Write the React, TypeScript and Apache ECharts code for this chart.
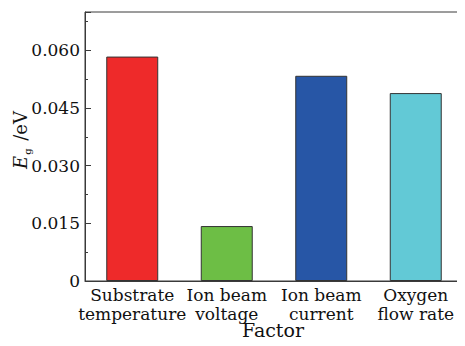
import React, { useEffect, useRef } from "react";
import * as echarts from "echarts";

const categories = ["Substrate\ntemperature", "Ion beam\nvoltage", "Ion beam\ncurrent", "Oxygen\nflow rate"];
const values = [0.0584, 0.0143, 0.0534, 0.0489];
const barColors = ["#EE2A2A", "#6DBE45", "#2756A6", "#62C9D6"];
const yTicks = [0, 0.015, 0.03, 0.045, 0.06];
const xName = "Factor";

const FONT = "DejaVu Serif";

export default function App() {
  const ref = useRef<HTMLDivElement>(null);
  useEffect(() => {
    const chart = echarts.init(ref.current!, null, { renderer: "svg" });
    const axisColor = "#3a3a3a";
    chart.setOption({
      animation: false,
      grid: {
        left: 85, right: 2, top: 12, bottom: 65,
        show: true, borderColor: axisColor, borderWidth: 1,
        containLabel: false, outerBoundsMode: "none",
      },
      graphic: [
        {
          type: "text",
          x: 273,
          y: 330,
          style: {
            text: xName,
            fontFamily: FONT,
            fontSize: 19,
            fill: "#111",
            align: "center",
            verticalAlign: "middle",
          },
        },
        {
          type: "text",
          x: 20,
          y: 140,
          rotation: Math.PI / 2,
          style: {
            text: "{e|E}{g|g}{u| /eV}",
            align: "center",
            verticalAlign: "middle",
            rich: {
              e: { fontFamily: FONT, fontStyle: "italic", fontSize: 18, fill: "#111", lineHeight: 24, verticalAlign: "middle" },
              g: { fontFamily: FONT, fontSize: 10, fill: "#111", lineHeight: 22, verticalAlign: "bottom", padding: [0, 2, 0, 1] },
              u: { fontFamily: FONT, fontSize: 18, fill: "#111", lineHeight: 24, verticalAlign: "middle" },
            },
          },
        },
      ],
      xAxis: [
        {
          type: "category",
          data: categories,
          position: "bottom",
          axisLine: { lineStyle: { color: axisColor, width: 1 } },
          axisTick: { inside: true, length: 4, lineStyle: { color: axisColor } },
          axisLabel: { color: "#111", fontFamily: FONT, fontSize: 17, lineHeight: 19, margin: 4, interval: 0 },
        },
        {
          type: "category",
          data: categories,
          position: "bottom",
          axisLine: { show: false },
          axisTick: { inside: true, alignWithLabel: true, length: 4, lineStyle: { color: axisColor } },
          axisLabel: { show: false },
        },
      ],
      yAxis: [
        {
          type: "value",
          min: 0,
          max: 0.07,
          interval: 0.015,
          axisLine: { show: true, lineStyle: { color: axisColor, width: 1 } },
          axisTick: { show: true, inside: true, length: 6, lineStyle: { color: axisColor } },
          splitLine: { show: false },
          axisLabel: {
            color: "#111",
            fontFamily: FONT,
            fontSize: 17,
            margin: 5,
            formatter: (v: number) => {
              if (!yTicks.some((t) => Math.abs(t - v) < 1e-9)) return "";
              return v === 0 ? "0" : v.toFixed(3);
            },
          },
        },
        {
          type: "value",
          min: 0,
          max: 0.07,
          interval: 0.0075,
          position: "left",
          axisLine: { show: false },
          axisTick: { show: true, inside: true, length: 3, lineStyle: { color: axisColor } },
          splitLine: { show: false },
          axisLabel: { show: false },
        },
      ],
      series: [
        {
          type: "bar",
          xAxisIndex: 0,
          yAxisIndex: 0,
          barWidth: "55%",
          data: values.map((v, i) => ({
            value: v,
            itemStyle: { color: barColors[i], borderColor: "#333", borderWidth: 1 },
          })),
        },
      ],
    });
    return () => chart.dispose();
  }, []);
  return <div ref={ref} style={{ width: 465, height: 346, margin: -8, background: "#fff" }} />;
}
